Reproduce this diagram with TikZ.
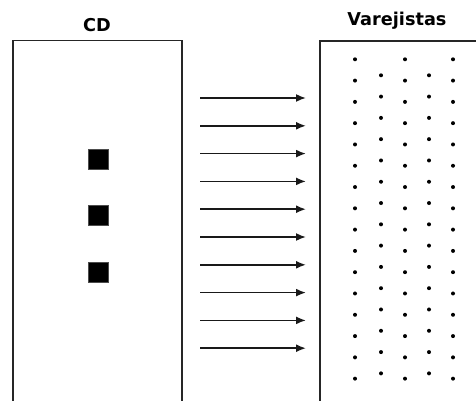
\documentclass[tikz,border=0pt]{standalone}
\usepackage{fontspec}
\newfontfamily\titlefont{DejaVu Sans}
\usetikzlibrary{arrows.meta}
\tikzset{
  boxline/.style={draw=black!85, line width=1.2pt},
  flowarrow/.style={draw=black!90, line width=1.7pt, -{Latex[length=10pt,width=8pt]}},
  retailer/.style={circle, fill=black, inner sep=0pt, minimum size=4pt},
  depot/.style={rectangle, fill=black, draw=black!70, line width=0.5pt, inner sep=0pt, minimum size=20pt},
  title/.style={anchor=base, inner sep=0pt, font=\titlefont\bfseries\fontsize{17.7}{20}\selectfont}
}
\begin{document}
\begin{tikzpicture}[x=1pt,y=-1pt]
\useasboundingbox (0,0) rectangle (476,401);
% titles
\node[title] (cd) at (97,31.7) {CD};
\node[title] (var) at (397,26) {Varejistas};
% boxes (open at the bottom)
\draw[boxline] (13,402) -- (13,40.7) -- (182,40.7) -- (182,402);
\draw[boxline] (320,402) -- (320,41) -- (478,41);
% depots
\foreach \i/\y in {1/159.3,2/215.7,3/272.3}
  \node[depot] (dep\i) at (98,\y) {};
% arrows
\foreach \k in {0,...,9}{
  \coordinate (s\k) at (200,98+27.8*\k);
  \coordinate (e\k) at (306,98+27.8*\k);
  \draw[flowarrow] (s\k) -- (e\k);
}
% retailers
\foreach \x in {355,405,453}
  \foreach \k in {0,...,15}
    \node[retailer] at (\x,59.3+21.29*\k) {};
\foreach \x in {381,429}
  \foreach \k in {0,...,14}
    \node[retailer] at (\x,75.3+21.29*\k) {};
\end{tikzpicture}
\end{document}
